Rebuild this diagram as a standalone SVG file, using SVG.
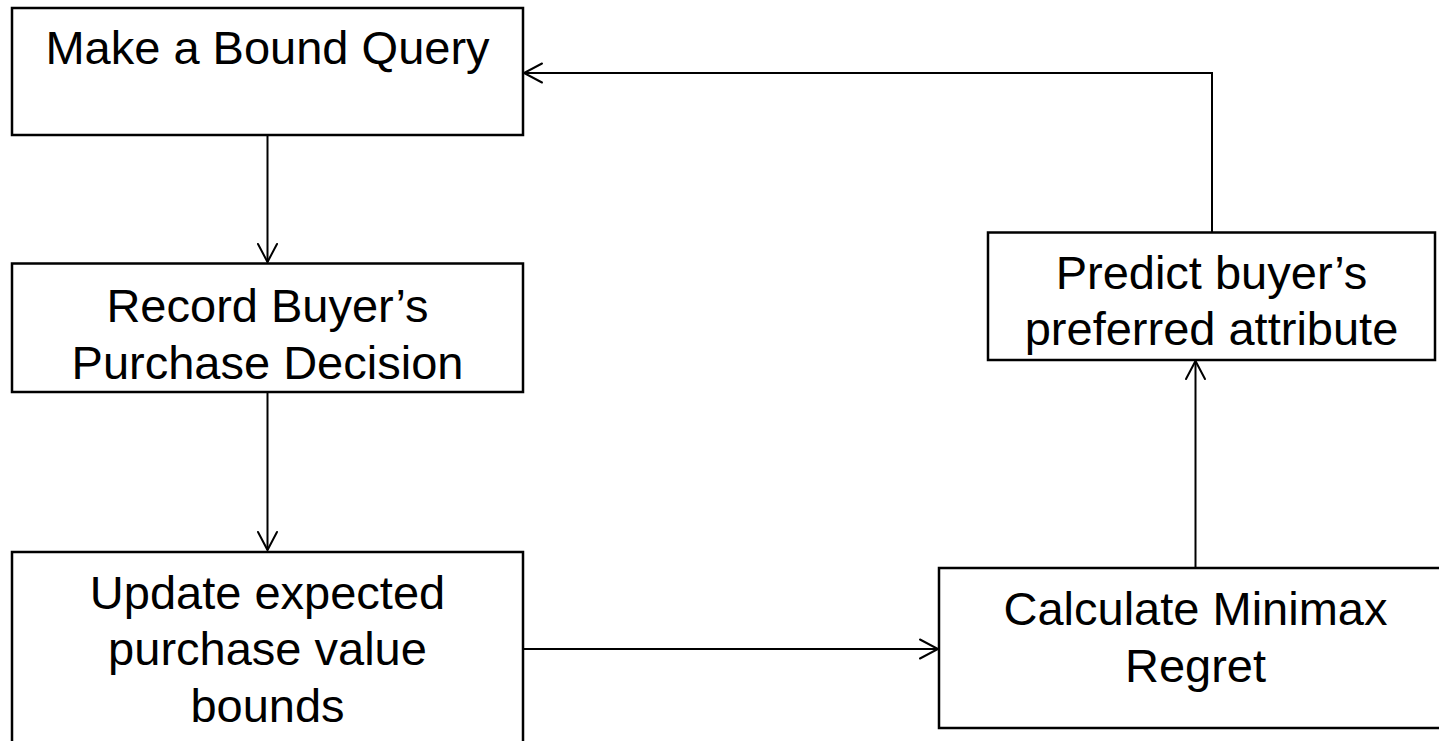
<svg xmlns="http://www.w3.org/2000/svg" width="1439" height="741" viewBox="0 0 1439 741">
  <style>
    .box { fill: #ffffff; stroke: #000000; stroke-width: 2.5; }
    .lbl { font-family: "Liberation Sans", Arial, sans-serif; font-size: 47px; fill: #000000; text-anchor: middle; }
    .conn { fill: none; stroke: #000000; stroke-width: 2; }
    .head { fill: none; stroke: #000000; stroke-width: 2; stroke-linecap: round; stroke-linejoin: miter; }
  </style>
  <rect x="0" y="0" width="1439" height="741" fill="#ffffff"/>
  <g id="connectors">
    <line class="conn" x1="267.5" y1="135" x2="267.5" y2="262"/>
    <polyline class="head" points="258,244 267.5,262 277,244"/>
    <line class="conn" x1="267.5" y1="392" x2="267.5" y2="550"/>
    <polyline class="head" points="258,532 267.5,550 277,532"/>
    <line class="conn" x1="523" y1="649" x2="938" y2="649"/>
    <polyline class="head" points="920,639.5 938,649 920,658.5"/>
    <line class="conn" x1="1195.5" y1="568" x2="1195.5" y2="361"/>
    <polyline class="head" points="1186,379 1195.5,361 1205,379"/>
    <polyline class="conn" points="1212,232 1212,73 524,73"/>
    <polyline class="head" points="542,63.5 524,73 542,82.5"/>
  </g>
  <g id="node-bound-query">
    <rect class="box" x="12" y="8" width="511" height="127"/>
    <text class="lbl" x="267.5" y="63.5">Make a Bound Query</text>
  </g>
  <g id="node-record">
    <rect class="box" x="12" y="263.5" width="511" height="128.5"/>
    <text class="lbl" x="267.5" y="321.5">Record Buyer’s</text>
    <text class="lbl" x="267.5" y="378.5">Purchase Decision</text>
  </g>
  <g id="node-update">
    <rect class="box" x="12" y="552" width="511" height="200"/>
    <text class="lbl" x="267.5" y="608.5">Update expected</text>
    <text class="lbl" x="267.5" y="665">purchase value</text>
    <text class="lbl" x="267.5" y="721.5">bounds</text>
  </g>
  <g id="node-minimax">
    <rect class="box" x="939" y="568" width="513" height="160"/>
    <text class="lbl" x="1195.5" y="625">Calculate Minimax</text>
    <text class="lbl" x="1195.5" y="681.5">Regret</text>
  </g>
  <g id="node-predict">
    <rect class="box" x="988" y="232.5" width="447" height="127.5"/>
    <text class="lbl" x="1211.5" y="288.5">Predict buyer’s</text>
    <text class="lbl" x="1211.5" y="345">preferred attribute</text>
  </g>
</svg>
